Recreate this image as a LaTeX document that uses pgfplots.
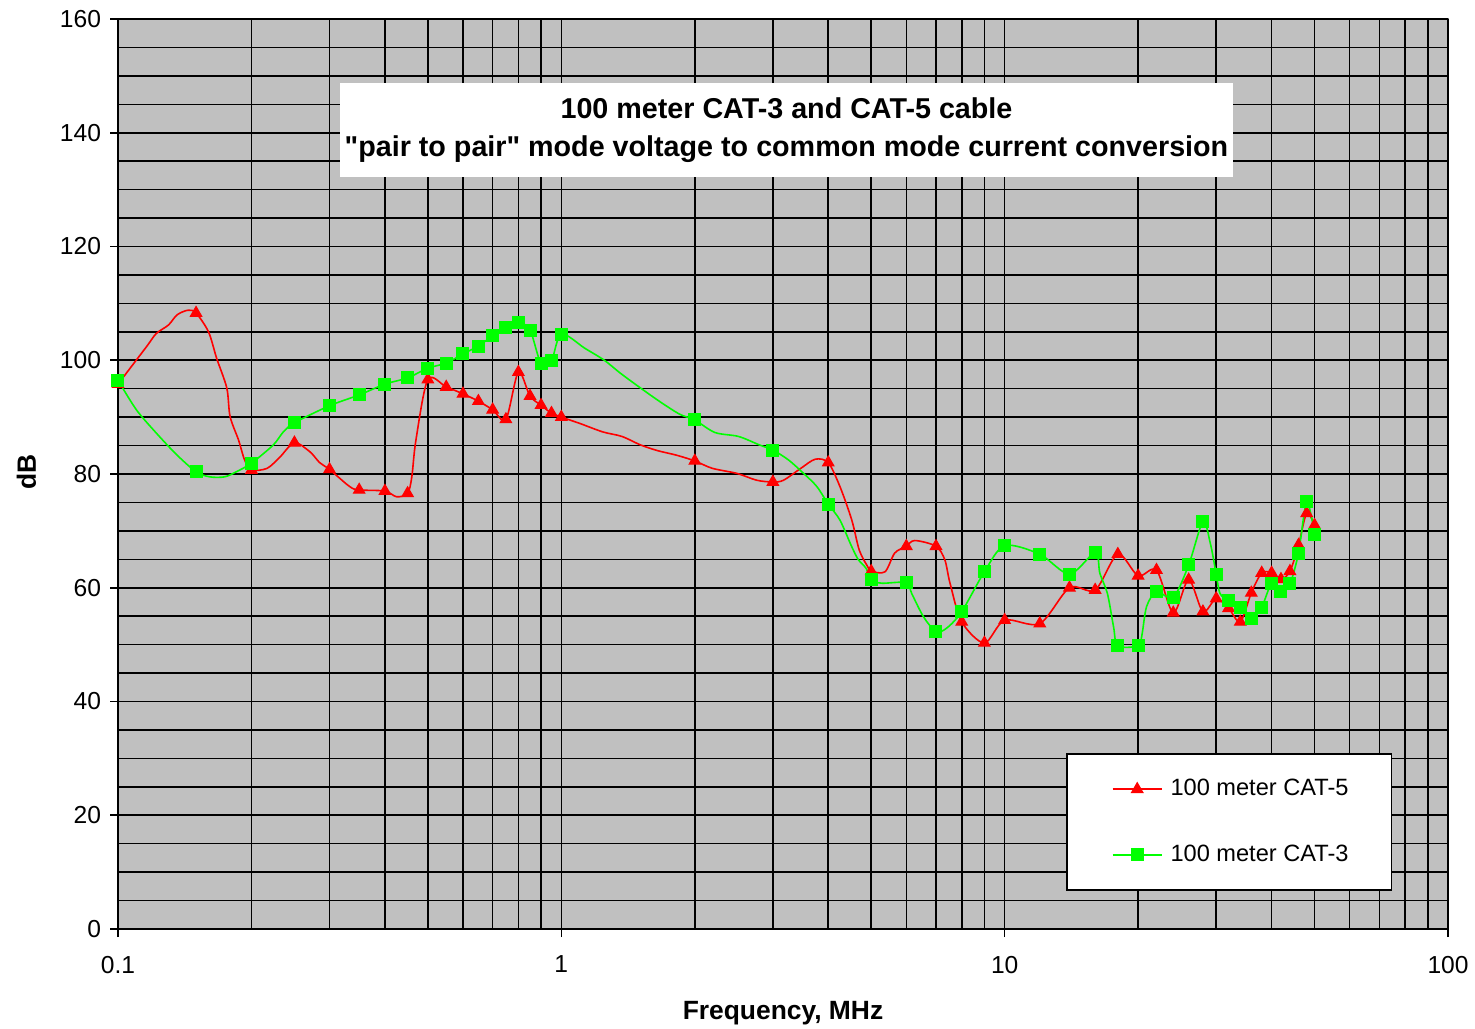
\documentclass[border=0pt]{standalone}
\usepackage{pgfplots}
\pgfplotsset{compat=1.18}
\usepackage{fontspec}
\setmainfont{Liberation Sans}
\newfontfamily\qfont{Liberation Sans}[Ligatures=TeXOff]
\definecolor{plotbg}{RGB}{192,192,192}
\definecolor{xlred}{RGB}{255,0,0}
\definecolor{xlgreen}{RGB}{0,255,0}
\begin{document}
\begin{tikzpicture}[x=1pt,y=1pt]
\useasboundingbox (0,0) rectangle (737.5,514);
\begin{axis}[
  at={(59pt,49.5pt)}, anchor=south west,
  scale only axis, width=665pt, height=455pt,
  xmode=log, xmin=0.1, xmax=100, ymin=0, ymax=160,
  axis x line*=bottom, axis y line*=left,
  axis line style={black, line width=1pt},
  axis background/.style={fill=plotbg, draw=gray, line width=0.8pt},
  xtick={0.1,1,10,100}, xticklabels={0.1,1,10,100},
  minor xtick={0.2,0.3,0.4,0.5,0.6,0.7,0.8,0.9,2,3,4,5,6,7,8,9,20,30,40,50,60,70,80,90},
  ytick={0,20,40,60,80,100,120,140,160},
  minor ytick={5,10,15,25,30,35,45,50,55,65,70,75,85,90,95,105,110,115,125,130,135,145,150,155},
  grid=both,
  major grid style={black, line width=0.8pt},
  minor grid style={black, line width=0.8pt},
  tick align=outside, major tick length=4pt, minor tick length=0pt,
  tick style={black, line width=0.8pt},
  /pgf/number format/assume math mode=true,
  tick label style={font=\fontsize{12.3}{14}\selectfont},
  xticklabel style={yshift=-6pt},
  yticklabel style={xshift=-1pt},
  xlabel={Frequency, MHz}, ylabel={dB},
  label style={font=\bfseries\fontsize{13.2}{15}\selectfont},
  xlabel style={at={(axis description cs:0.5,-0.092)}, anchor=center},
  ylabel style={at={(axis description cs:-0.0688,0.502)}, anchor=center, rotate=0},
  legend style={at={(0.7128,0.1934)}, anchor=north west, draw=black, line width=0.9pt, fill=white,
    font=\fontsize{11.8}{13}\selectfont, inner xsep=22.5pt, inner ysep=10.8pt, row sep=19.1pt,
    nodes={inner sep=2pt}, /tikz/every odd column/.style={column sep=2pt}},
  legend cell align=left,
  legend image code/.code={\draw[mark repeat=2,mark phase=2] plot coordinates {(0pt,0pt) (12.25pt,0pt) (24.5pt,0pt)};},
]
% CAT-5 line
\addplot[xlred, line width=0.8pt, smooth, tension=0.5, forget plot] table {
0.1 95.8
0.116 102.4
0.122 104.7
0.130 106.2
0.136 108.0
0.144 108.8
0.15 108.3
0.160 105.0
0.167 100.3
0.176 95.1
0.179 90.1
0.187 86.0
0.193 82.5
0.2 80.7
0.217 81.0
0.232 83.0
0.25 85.5
0.271 83.9
0.285 82.0
0.3 80.8
0.333 77.8
0.35 77.2
0.4 77.0
0.425 76.0
0.45 76.6
0.46 79.5
0.47 86.0
0.5 96.6
0.55 95.3
0.6 94.1
0.65 92.8
0.7 91.3
0.75 89.6
0.8 97.9
0.85 93.7
0.9 92.1
0.95 90.7
1.0 90.0
1.10 88.9
1.24 87.4
1.37 86.6
1.51 85.1
1.65 84.1
1.82 83.3
2 82.3
2.19 81.0
2.49 80.1
2.76 78.9
3 78.6
3.17 78.9
3.47 81.0
3.74 82.6
4 82.0
4.25 77.8
4.52 71.9
4.70 66.6
4.91 63.7
5 62.9
5.37 62.8
5.65 66.1
6 67.3
6.27 68.3
7 67.3
7.33 64.9
7.53 60.8
8 54.0
9 50.3
10 54.3
12 53.7
14 60.0
16 59.6
18 65.9
20 62.1
22 63.1
24 55.6
26 61.4
28 55.8
30 58.1
32 56.4
34 54.0
36 59.1
38 62.6
40 62.6
42 61.5
44 62.9
46 67.5
48 73.1
50 71.0
};
\addplot[xlred, only marks, mark=triangle*, mark size=3.3pt, line width=0.5pt, forget plot] table {
0.1 95.8
0.15 108.3
0.2 80.7
0.25 85.5
0.3 80.8
0.35 77.2
0.4 77.0
0.45 76.6
0.5 96.6
0.55 95.3
0.6 94.1
0.65 92.8
0.7 91.3
0.75 89.6
0.8 97.9
0.85 93.7
0.9 92.1
0.95 90.7
1.0 90.0
2 82.3
3 78.6
4 82.0
5 62.9
6 67.3
7 67.3
8 54.0
9 50.3
10 54.3
12 53.7
14 60.0
16 59.6
18 65.9
20 62.1
22 63.1
24 55.6
26 61.4
28 55.8
30 58.1
32 56.4
34 54.0
36 59.1
38 62.6
40 62.6
42 61.5
44 62.9
46 67.5
48 73.1
50 71.0
};
% CAT-3 line
\addplot[xlgreen, line width=0.8pt, smooth, tension=0.5, forget plot] table {
0.1 96.5
0.110 91.3
0.122 87.2
0.136 83.3
0.15 80.4
0.161 79.5
0.174 79.5
0.185 80.4
0.2 81.9
0.224 85.1
0.236 87.4
0.25 89.0
0.3 92.0
0.35 93.9
0.4 95.8
0.45 96.9
0.5 98.6
0.55 99.5
0.6 101.1
0.65 102.5
0.7 104.3
0.75 105.8
0.8 106.7
0.85 105.3
0.9 99.4
0.95 99.9
1.0 104.6
1.13 102.1
1.25 100.0
1.36 97.7
1.51 95.1
1.67 92.7
1.85 90.5
2 89.5
2.22 87.3
2.51 86.6
2.80 85.1
3 84.2
3.25 82.5
3.52 80.1
3.77 77.8
4 74.7
4.25 71.9
4.52 67.2
4.68 64.9
4.87 63.4
5 61.4
5.28 60.8
6 60.9
6.17 59.0
6.56 54.9
7 52.3
7.40 52.9
8 55.8
9 62.8
10 67.4
12 65.9
14 62.4
16 66.2
16.4 62.5
17.05 59.0
17.6 53.2
18 49.8
20 49.8
20.4 51.7
20.9 56.7
22 59.3
24 58.3
26 64.0
28 71.6
29.1 67.8
30 62.4
30.6 59.0
32 57.7
34 56.6
36 54.6
38 56.6
40 60.7
42 59.4
44 60.7
46 66.1
48 75.1
50 69.4
};
\addplot[xlgreen, only marks, mark=square*, mark size=3pt, line width=0.5pt, forget plot] table {
0.1 96.5
0.15 80.4
0.2 81.9
0.25 89.0
0.3 92.0
0.35 93.9
0.4 95.8
0.45 96.9
0.5 98.6
0.55 99.5
0.6 101.1
0.65 102.5
0.7 104.3
0.75 105.8
0.8 106.7
0.85 105.3
0.9 99.4
0.95 99.9
1.0 104.6
2 89.5
3 84.2
4 74.7
5 61.4
6 60.9
7 52.3
8 55.8
9 62.8
10 67.4
12 65.9
14 62.4
16 66.2
18 49.8
20 49.8
22 59.3
24 58.3
26 64.0
28 71.6
30 62.4
32 57.7
34 56.6
36 54.6
38 56.6
40 60.7
42 59.4
44 60.7
46 66.1
48 75.1
50 69.4
};
\addlegendimage{xlred, line width=0.8pt, mark=triangle*, mark size=3.3pt, mark options={line width=0.5pt}}
\addlegendentry{\makebox[86pt][l]{100 meter CAT-5}}
\addlegendimage{xlgreen, line width=0.8pt, mark=square*, mark size=3pt, mark options={line width=0.5pt}}
\addlegendentry{\makebox[86pt][l]{100 meter CAT-3}}
\end{axis}
\node[fill=white, minimum width=446.5pt, minimum height=47pt, inner sep=0pt, align=center,
  font=\qfont\bfseries\fontsize{14.35}{19}\selectfont] at (393.25,449)
  {100 meter CAT-3 and CAT-5 cable\\"pair to pair" mode voltage to common mode current conversion};
\end{tikzpicture}
\end{document}
